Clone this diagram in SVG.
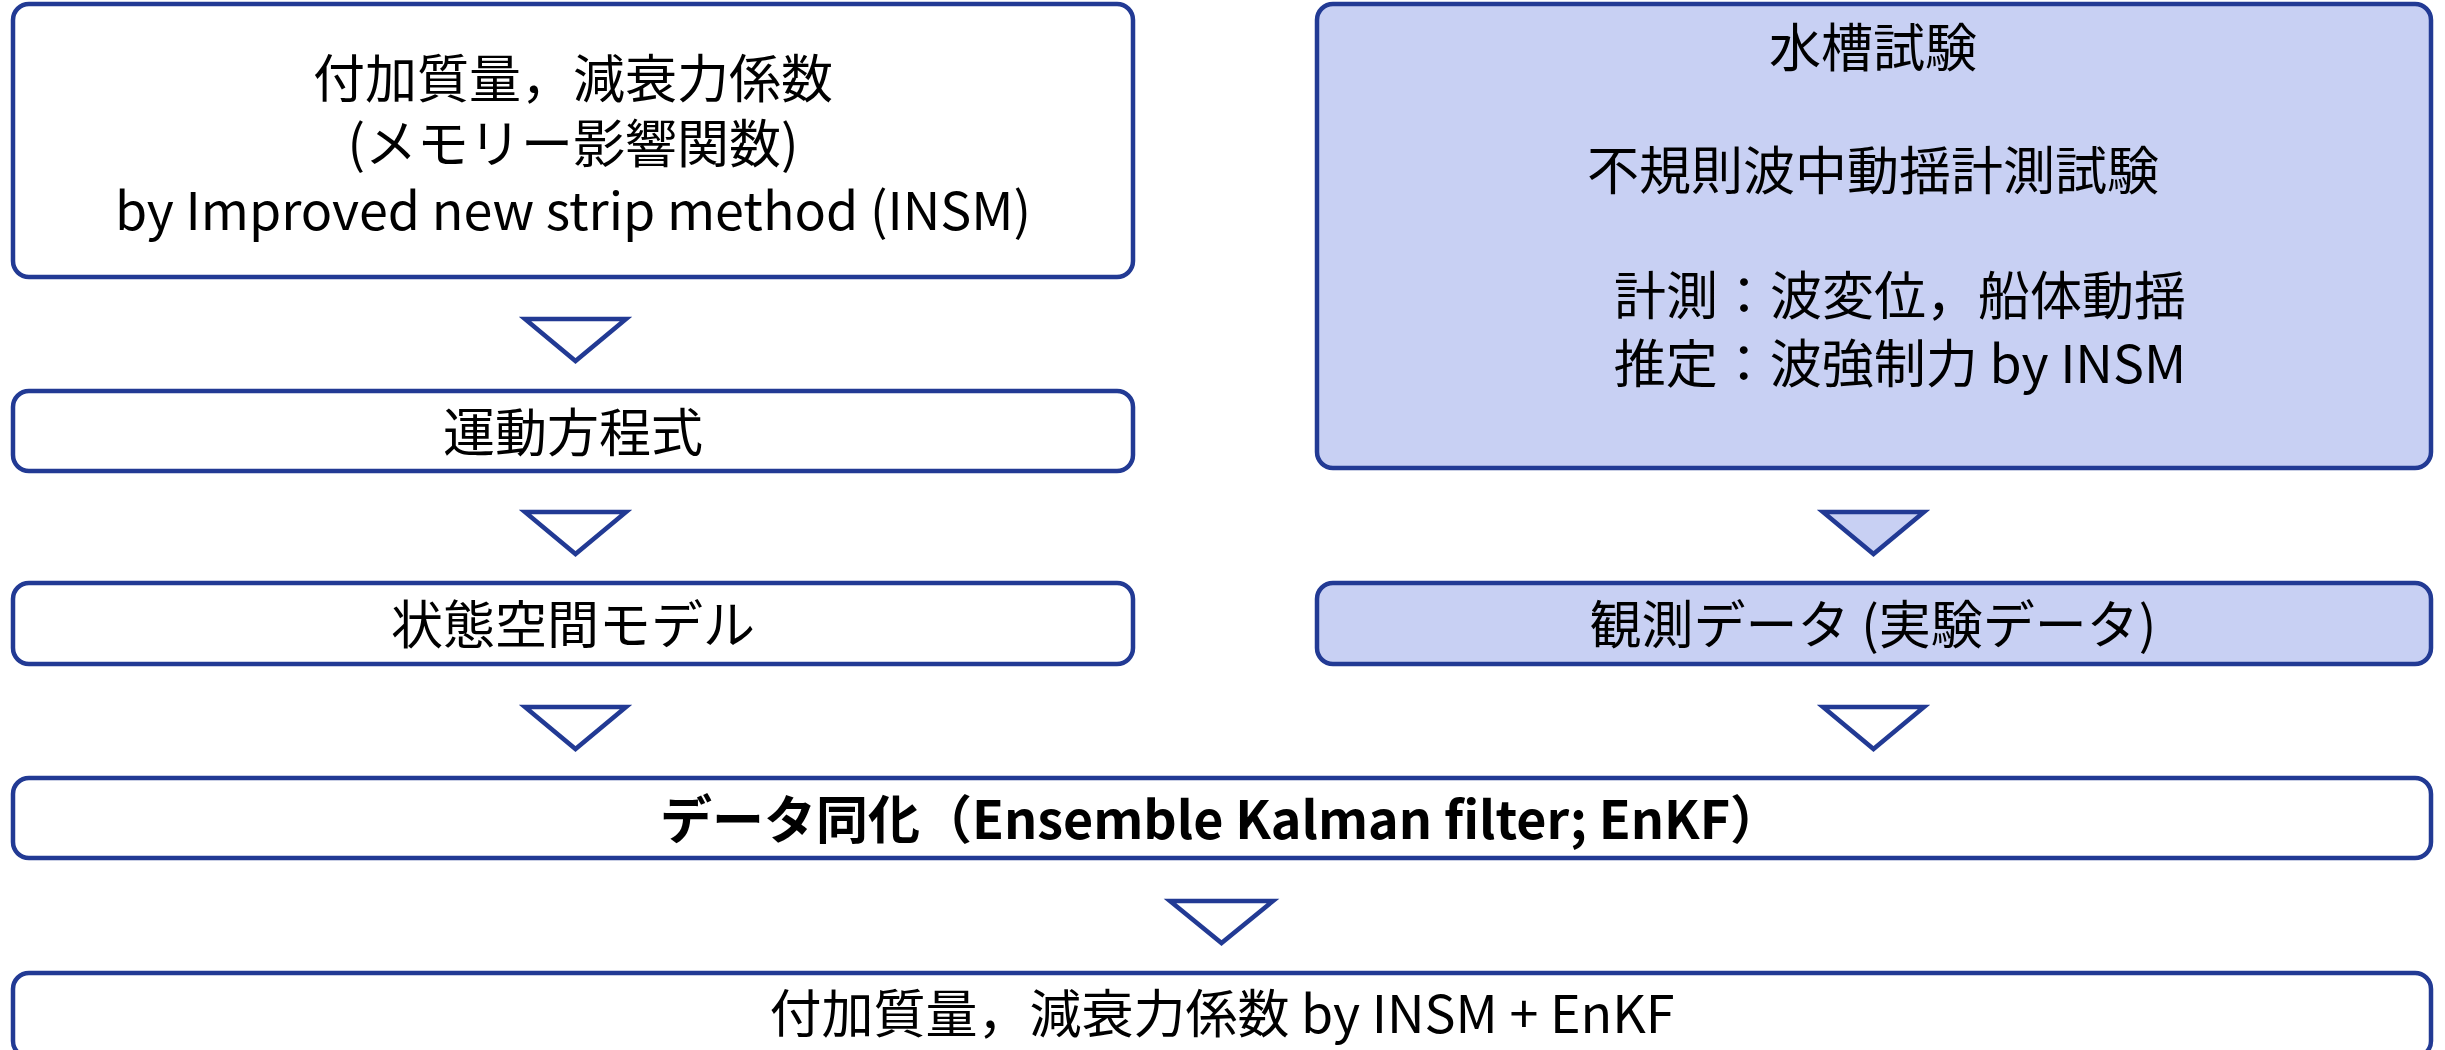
<svg xmlns="http://www.w3.org/2000/svg" width="2445" height="1050" viewBox="0 0 2445 1050">
<style>
.box{fill:#ffffff;stroke:#223A94;stroke-width:4.5}
.boxb{fill:#C8D0F3;stroke:#223A94;stroke-width:4.5}
.tri{fill:#ffffff;stroke:#223A94;stroke-width:4.5;stroke-linejoin:miter}
.trib{fill:#C8D0F3;stroke:#223A94;stroke-width:4.5;stroke-linejoin:miter}
text{font-family:"Noto Sans CJK JP","Noto Sans",sans-serif;font-size:52px;fill:#000;text-anchor:middle;dominant-baseline:central}
.bold{font-weight:bold}
</style>
<rect width="2445" height="1050" fill="#ffffff"/>
<g id="n1">
<rect class="box" x="13" y="4" width="1120" height="273" rx="16"/>
<text x="573" y="75">付加質量，減衰力係数</text>
<text x="573" y="140">(メモリー影響関数)</text>
<text x="573" y="207">by Improved new strip method (INSM)</text>
</g>
<g id="n2">
<rect class="boxb" x="1317" y="4" width="1114" height="464" rx="16"/>
<text x="1873" y="44">水槽試験</text>
<text x="1873" y="167">不規則波中動揺計測試験</text>
<text x="1900" y="292">計測：波変位，船体動揺</text>
<text x="1900" y="360">推定：波強制力 by INSM</text>
</g>
<g id="n3">
<rect class="box" x="13" y="391" width="1120" height="80" rx="16"/>
<text x="573" y="429">運動方程式</text>
</g>
<g id="n4">
<rect class="box" x="13" y="583" width="1120" height="81" rx="16"/>
<text x="573" y="621">状態空間モデル</text>
</g>
<g id="n5">
<rect class="boxb" x="1317" y="583" width="1114" height="81" rx="16"/>
<text x="1873" y="621">観測データ (実験データ)</text>
</g>
<g id="n6">
<rect class="box" x="13" y="778" width="2418" height="80" rx="16"/>
<text class="bold" x="1221" y="816">データ同化（Ensemble Kalman filter; EnKF）</text>
</g>
<g id="n7">
<rect class="box" x="13" y="973" width="2418" height="84" rx="16"/>
<text x="1222" y="1010">付加質量，減衰力係数 by INSM + EnKF</text>
</g>
<g id="connectors">
<polygon class="tri" points="525,319 626,319 575.5,361"/>
<polygon class="tri" points="525,512 626,512 575.5,554"/>
<polygon class="trib" points="1823,512 1924,512 1873.5,554"/>
<polygon class="tri" points="525,707 626,707 575.5,749"/>
<polygon class="tri" points="1823,707 1924,707 1873.5,749"/>
<polygon class="tri" points="1170,901 1273,901 1221.5,943"/>
</g>
</svg>
